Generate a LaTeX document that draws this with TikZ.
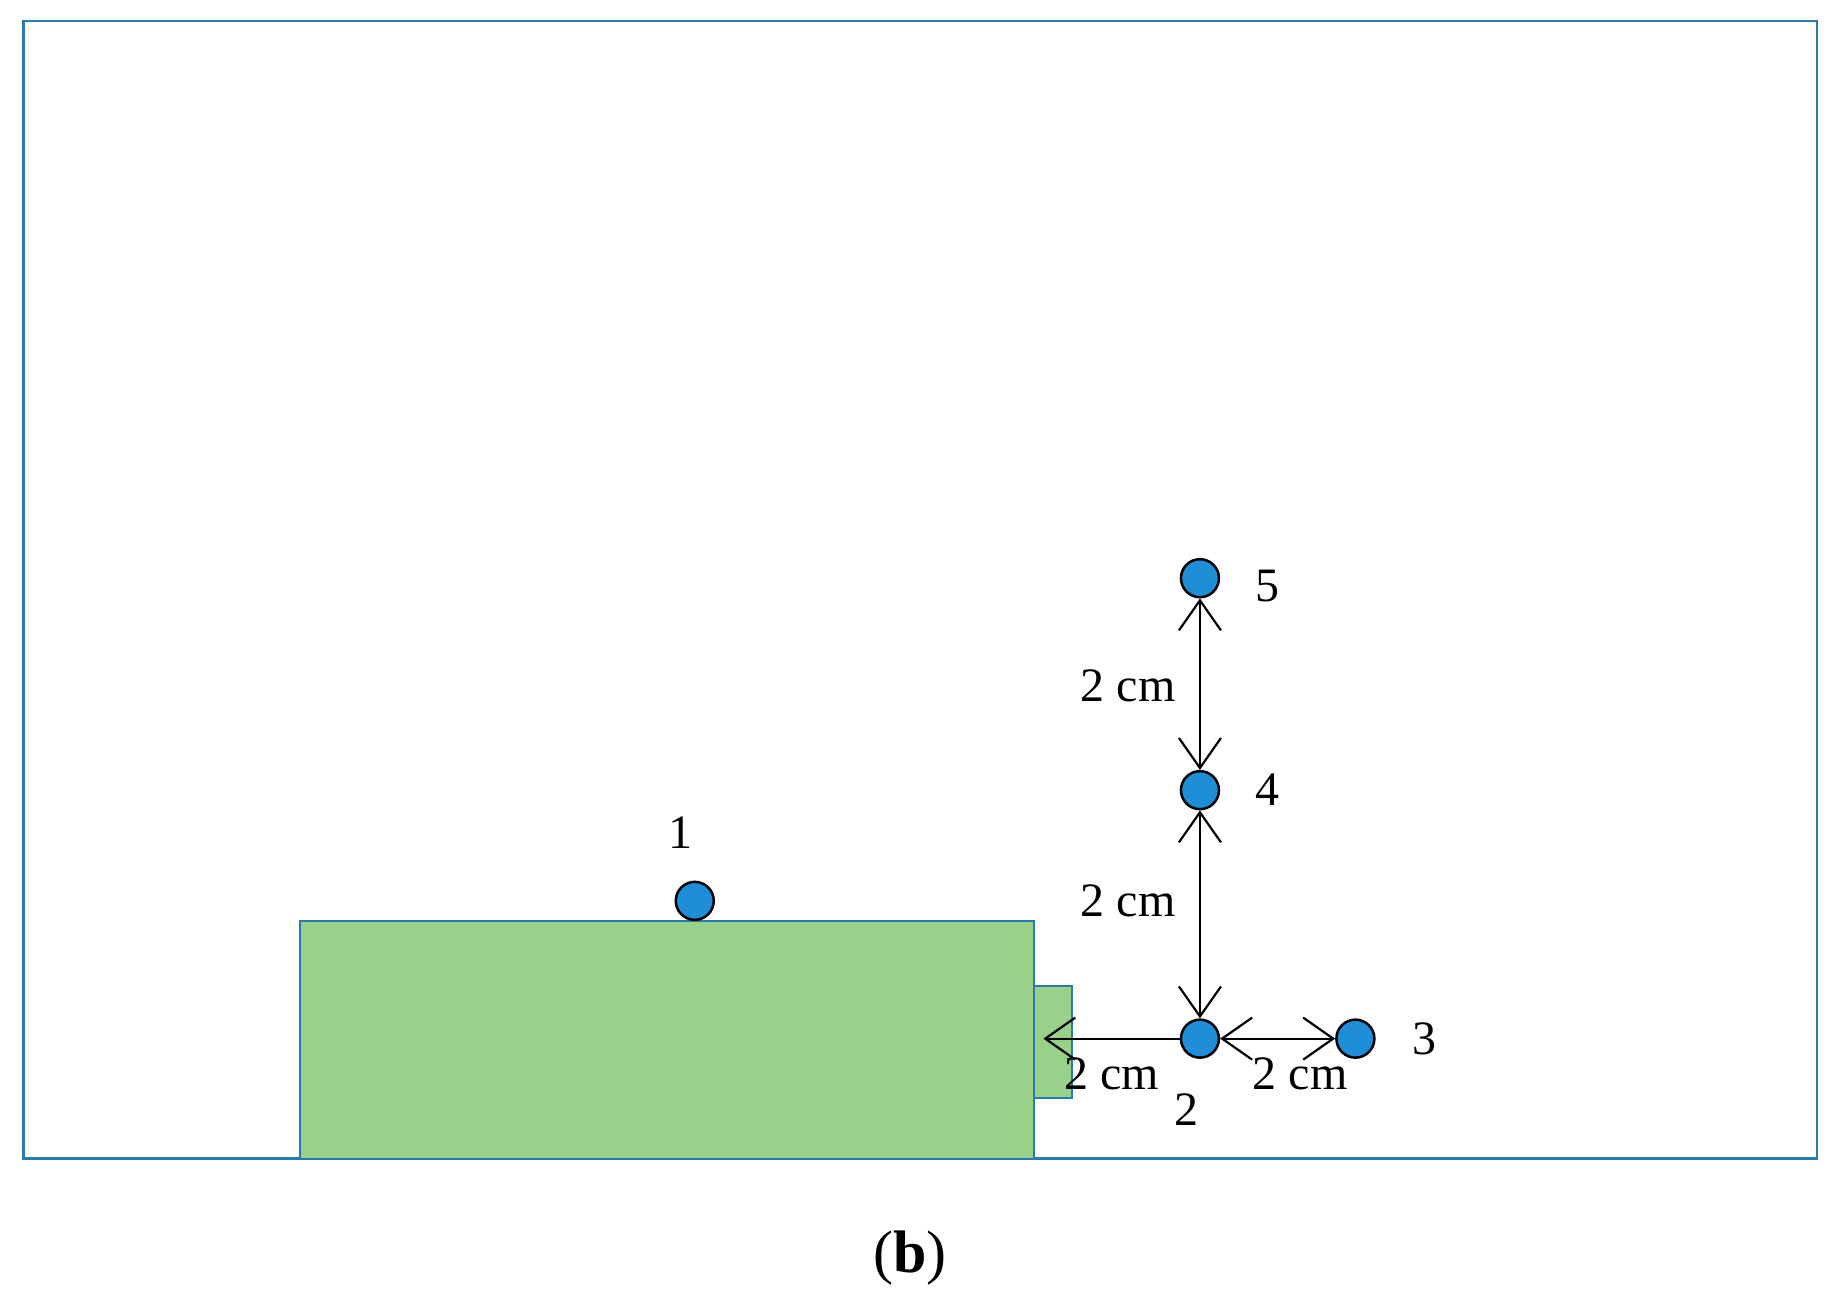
\documentclass[tikz,border=0pt]{standalone}
\usepackage{fontspec}
\setmainfont{Liberation Serif}
\usetikzlibrary{arrows.meta}
\definecolor{frameblue}{HTML}{2A7AB0}
\definecolor{boxgreen}{HTML}{98D28A}
\definecolor{dotblue}{HTML}{1E8ED8}
\tikzset{
  dot/.style={circle,draw=black,line width=2.5pt,fill=dotblue,minimum size=38pt,inner sep=0pt},
  lbl/.style={font=\fontsize{48}{52}\selectfont,inner sep=0pt},
  barb/.tip={Straight Barb[length=30pt,width=42pt,line width=2.2pt]},
  dim/.style={line width=2.2pt,barb-barb},
  dimone/.style={line width=2.2pt,-barb}
}
\begin{document}
\begin{tikzpicture}[x=1.1776pt,y=-1.1776pt]
\useasboundingbox (0,0) rectangle (1560,1112);
\draw[frameblue,line width=2.5pt] (20,18) rectangle (1543,984);
\draw[frameblue,fill=boxgreen,line width=2pt] (255,782) rectangle (878,984);
\draw[frameblue,fill=boxgreen,line width=2pt] (878,837) rectangle (910,932);
\coordinate (wall) at (886,882);
\node[dot] (n1) at (590,765) {};
\node[dot] (n2) at (1019,882) {};
\node[dot] (n3) at (1151,882) {};
\node[dot] (n4) at (1019,671) {};
\node[dot] (n5) at (1019,491) {};
\node[lbl] (l1) at (578,707) {1};
\node[lbl] (l2) at (1008,942) {2};
\node[lbl] (l3) at (1210,882) {3};
\node[lbl] (l4) at (1076,671) {4};
\node[lbl] (l5) at (1076,498) {5};
\draw[dimone] (n2) -- (wall);
\draw[dim] (n2) -- (n3);
\draw[dim] (n2) -- (n4);
\draw[dim] (n4) -- (n5);
\node[lbl] (d1) at (958,582) {2 cm};
\node[lbl] (d2) at (958,765) {2 cm};
\node[lbl] (d3) at (944,912) {2 cm};
\node[lbl] (d4) at (1104,912) {2 cm};
\node[font=\fontsize{60}{64}\selectfont] (cap) at (773,1068) {(\textbf{b})};
\end{tikzpicture}
\end{document}
